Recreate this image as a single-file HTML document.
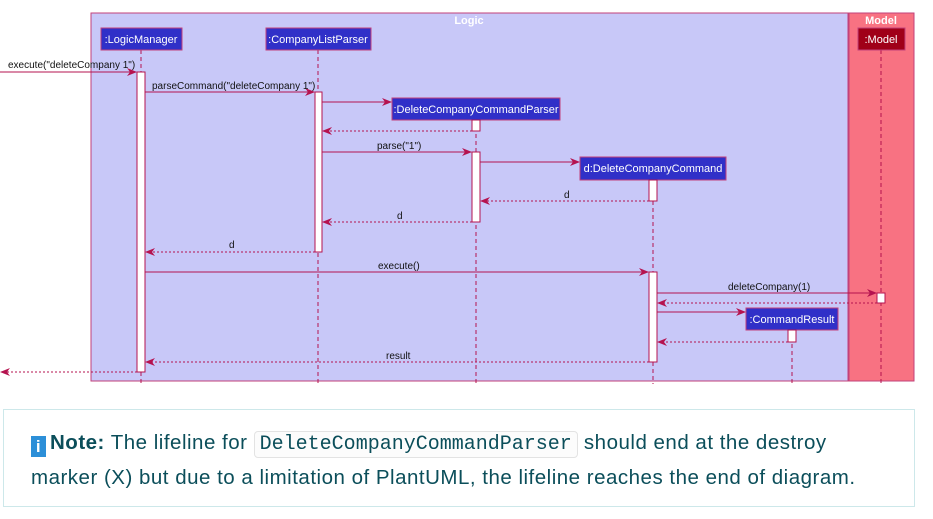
<!DOCTYPE html>
<html><head><meta charset="utf-8"><style>
body{margin:0;width:933px;height:519px;background:#fff;overflow:hidden;font-family:"Liberation Sans",sans-serif}
svg{position:absolute;left:0;top:0}
.note{position:absolute;left:3px;top:409px;width:912px;height:98px;border:1px solid #cde8ea;box-sizing:border-box;color:#0b4e5a;font-size:20.5px;letter-spacing:0.5px;line-height:33px;padding:16px 0 0 27px;white-space:nowrap}
.code{font-family:"Liberation Mono",monospace;border:1px solid #e3e3e3;border-radius:4px;padding:1px 5px;background:#fcfcfc;font-size:20px;letter-spacing:0}
.ic{display:inline-block;width:15px;height:21px;background:#2c8fd8;color:#fff;font-weight:bold;font-size:17px;line-height:21px;text-align:center;vertical-align:-3px;margin-right:4px}
</style></head><body>
<svg width="933" height="400" font-family="Liberation Sans, sans-serif">
<defs><marker id="a" markerWidth="10" markerHeight="8" refX="9" refY="4" orient="auto" markerUnits="userSpaceOnUse"><path d="M0,0 L10,4 L0,8 L3,4z" fill="#b5134f"/></marker></defs>
<rect x="91" y="13" width="757" height="368" fill="#c8c8f8" stroke="#c2417a"/>
<rect x="849" y="13" width="65" height="368" fill="#f87282" stroke="#c2417a"/>
<text x="469" y="24" fill="#fff" font-size="11" font-weight="bold" text-anchor="middle">Logic</text>
<text x="881" y="24" fill="#fff" font-size="11" font-weight="bold" text-anchor="middle">Model</text>
<g stroke="#b5134f" stroke-dasharray="4,3" stroke-width="1">
<line x1="141" y1="50" x2="141" y2="384"/><line x1="318" y1="50" x2="318" y2="384"/>
<line x1="476" y1="120" x2="476" y2="384"/><line x1="653" y1="180" x2="653" y2="384"/>
<line x1="881" y1="50" x2="881" y2="384"/><line x1="792" y1="330" x2="792" y2="384"/>
</g>
<g stroke="#c2417a" fill="#3030c8">
<rect x="101" y="28" width="81" height="22"/><rect x="266" y="28" width="105" height="22"/>
<rect x="392" y="98" width="168" height="22"/><rect x="580" y="157" width="146" height="23"/>
<rect x="746" y="308" width="92" height="22"/><rect x="858" y="28" width="47" height="22" fill="#a00018"/>
</g>
<g fill="#fff" font-size="11" text-anchor="middle">
<text x="141" y="43">:LogicManager</text><text x="318" y="43">:CompanyListParser</text>
<text x="476" y="113">:DeleteCompanyCommandParser</text><text x="653" y="172">d:DeleteCompanyCommand</text>
<text x="792" y="323">:CommandResult</text><text x="881" y="43">:Model</text>
</g>
<g fill="#fff" stroke="#b5134f">
<rect x="137" y="72" width="8" height="300"/><rect x="315" y="92" width="7" height="160"/>
<rect x="472" y="120" width="8" height="11"/><rect x="472" y="152" width="8" height="70"/>
<rect x="649" y="180" width="8" height="21"/><rect x="649" y="272" width="8" height="90"/>
<rect x="877" y="293" width="8" height="10"/><rect x="788" y="330" width="8" height="12"/>
</g>
<g stroke="#b5134f" marker-end="url(#a)">
<line x1="0" y1="72" x2="136" y2="72"/><line x1="145" y1="92" x2="314" y2="92"/>
<line x1="322" y1="102" x2="391" y2="102"/><line x1="322" y1="152" x2="471" y2="152"/>
<line x1="480" y1="162" x2="579" y2="162"/><line x1="145" y1="272" x2="648" y2="272"/>
<line x1="657" y1="293" x2="876" y2="293"/><line x1="657" y1="312" x2="745" y2="312"/>
</g>
<g stroke="#b5134f" stroke-dasharray="2,2" marker-end="url(#a)">
<line x1="472" y1="131" x2="323" y2="131"/><line x1="649" y1="201" x2="481" y2="201"/>
<line x1="472" y1="222" x2="323" y2="222"/><line x1="315" y1="252" x2="146" y2="252"/>
<line x1="877" y1="303" x2="658" y2="303"/><line x1="788" y1="342" x2="658" y2="342"/>
<line x1="649" y1="362" x2="146" y2="362"/><line x1="137" y1="372" x2="1" y2="372"/>
</g>
<g fill="#111" font-size="10">
<text x="8" y="68">execute("deleteCompany 1")</text><text x="152" y="89">parseCommand("deleteCompany 1")</text>
<text x="377" y="149">parse("1")</text><text x="564" y="198">d</text><text x="397" y="219">d</text>
<text x="229" y="248">d</text><text x="378" y="269">execute()</text><text x="728" y="290">deleteCompany(1)</text>
<text x="386" y="359">result</text>
</g>
</svg>
<div class="note"><span class="ic">i</span><b>Note:</b> The lifeline for <span class="code">DeleteCompanyCommandParser</span> should end at the destroy<br>marker (X) but due to a limitation of PlantUML, the lifeline reaches the end of diagram.</div>
</body></html>
